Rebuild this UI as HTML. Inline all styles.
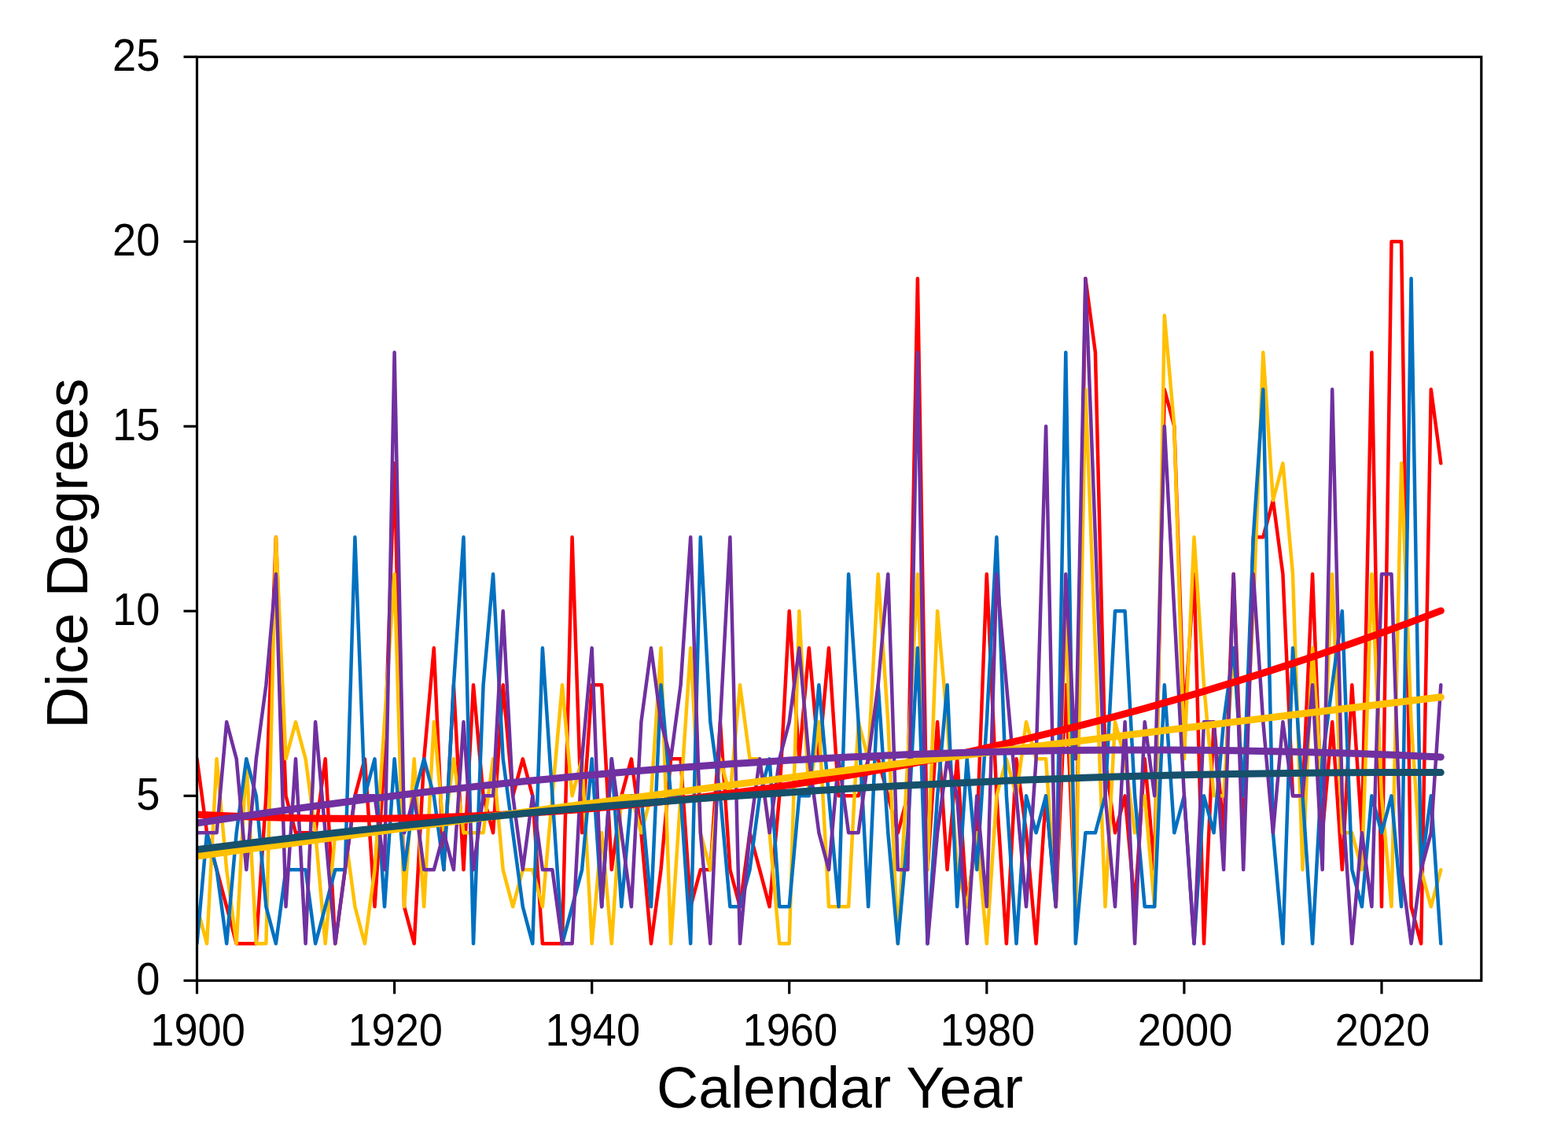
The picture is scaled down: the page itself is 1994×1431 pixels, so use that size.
<!DOCTYPE html>
<html lang="en">
<head>
<meta charset="utf-8">
<title>Dice Degrees by Calendar Year</title>
<style>
html,body{margin:0;padding:0;background:#fff;}
body{width:1994px;height:1431px;overflow:hidden;}
svg{display:block;}
text{font-family:"Liberation Sans",Arial,Helvetica,sans-serif;fill:#000;}
.tick{font-size:56.8px;}
.title{font-size:73.5px;}
.s{fill:none;stroke-width:4.5;stroke-linejoin:round;stroke-linecap:round;}
.t{fill:none;stroke-width:9;stroke-linejoin:round;stroke-linecap:round;}
.ax{stroke:#000;stroke-width:3.2;fill:none;stroke-linecap:butt;}
</style>
</head>
<body>
<svg xmlns="http://www.w3.org/2000/svg" width="1994" height="1431" viewBox="0 0 1994 1431">
<rect x="0" y="0" width="1994" height="1431" fill="#ffffff"/>
<defs><clipPath id="plotclip"><rect x="250.5" y="72.4" width="1633.3" height="1174.9"/></clipPath></defs>
<g class="s" clip-path="url(#plotclip)">
<polyline stroke="#FF0000" points="250.5,965.3 263.1,1059.3 275.6,1106.3 288.2,1153.3 300.7,1200.3 313.3,1200.3 325.8,1200.3 338.4,1012.3 350.9,683.3 363.5,1012.3 376,1059.3 388.6,1059.3 401.1,1059.3 413.7,965.3 426.3,1200.3 438.8,1106.3 451.4,1012.3 463.9,965.3 476.5,1153.3 489,965.3 501.6,589.3 514.1,1153.3 526.7,1200.3 539.2,965.3 551.8,824.3 564.4,1106.3 576.9,871.3 589.5,1106.3 602,871.3 614.6,1012.3 627.1,1059.3 639.7,871.3 652.2,1012.3 664.8,965.3 677.3,1012.3 689.9,1200.3 702.4,1200.3 715,1200.3 727.6,683.3 740.1,1059.3 752.7,871.3 765.2,871.3 777.8,1106.3 790.3,1012.3 802.9,965.3 815.4,1059.3 828,1200.3 840.5,1106.3 853.1,965.3 865.6,965.3 878.2,1153.3 890.8,1106.3 903.3,1106.3 915.9,918.3 928.4,1106.3 941,1153.3 953.5,1059.3 966.1,1106.3 978.6,1153.3 991.2,1012.3 1003.7,777.3 1016.3,965.3 1028.8,824.3 1041.4,965.3 1054,824.3 1066.5,1012.3 1079.1,1012.3 1091.6,1012.3 1104.2,965.3 1116.7,965.3 1129.3,1012.3 1141.8,1059.3 1154.4,1012.3 1166.9,354.3 1179.5,1106.3 1192.1,918.3 1204.6,1106.3 1217.2,965.3 1229.7,1153.3 1242.3,1059.3 1254.8,730.3 1267.4,1012.3 1279.9,1200.3 1292.5,965.3 1305,1059.3 1317.6,1200.3 1330.1,1012.3 1342.7,1153.3 1355.3,871.3 1367.8,1153.3 1380.4,354.3 1392.9,448.3 1405.5,965.3 1418,1059.3 1430.6,1012.3 1443.1,1153.3 1455.7,965.3 1468.2,1106.3 1480.8,495.3 1493.3,542.3 1505.9,918.3 1518.5,730.3 1531,1200.3 1543.6,918.3 1556.1,1059.3 1568.7,730.3 1581.2,1059.3 1593.8,683.3 1606.3,683.3 1618.9,636.3 1631.4,730.3 1644,1012.3 1656.5,1012.3 1669.1,730.3 1681.7,1059.3 1694.2,918.3 1706.8,1106.3 1719.3,871.3 1731.9,1059.3 1744.4,448.3 1757,1153.3 1769.5,307.3 1782.1,307.3 1794.6,1153.3 1807.2,1200.3 1819.8,495.3 1832.3,589.3"/>
<polyline stroke="#FFC000" points="250.5,1153.3 263.1,1200.3 275.6,965.3 288.2,1106.3 300.7,1200.3 313.3,965.3 325.8,1200.3 338.4,1200.3 350.9,683.3 363.5,965.3 376,918.3 388.6,965.3 401.1,1059.3 413.7,1200.3 426.3,1059.3 438.8,1059.3 451.4,1153.3 463.9,1200.3 476.5,1106.3 489,918.3 501.6,730.3 514.1,1153.3 526.7,965.3 539.2,1153.3 551.8,918.3 564.4,1059.3 576.9,965.3 589.5,1059.3 602,1059.3 614.6,1059.3 627.1,965.3 639.7,1106.3 652.2,1153.3 664.8,1106.3 677.3,1106.3 689.9,1153.3 702.4,1012.3 715,871.3 727.6,1012.3 740.1,965.3 752.7,1200.3 765.2,1059.3 777.8,1200.3 790.3,1012.3 802.9,1012.3 815.4,1059.3 828,1012.3 840.5,824.3 853.1,1200.3 865.6,1012.3 878.2,824.3 890.8,1059.3 903.3,1106.3 915.9,965.3 928.4,1012.3 941,871.3 953.5,965.3 966.1,965.3 978.6,1059.3 991.2,1200.3 1003.7,1200.3 1016.3,777.3 1028.8,1012.3 1041.4,918.3 1054,1153.3 1066.5,1153.3 1079.1,1153.3 1091.6,918.3 1104.2,965.3 1116.7,730.3 1129.3,918.3 1141.8,1200.3 1154.4,965.3 1166.9,730.3 1179.5,1106.3 1192.1,777.3 1204.6,918.3 1217.2,1106.3 1229.7,1153.3 1242.3,1059.3 1254.8,1200.3 1267.4,1012.3 1279.9,965.3 1292.5,1012.3 1305,918.3 1317.6,965.3 1330.1,965.3 1342.7,1153.3 1355.3,777.3 1367.8,1153.3 1380.4,495.3 1392.9,824.3 1405.5,1153.3 1418,918.3 1430.6,965.3 1443.1,1059.3 1455.7,1012.3 1468.2,1153.3 1480.8,401.3 1493.3,542.3 1505.9,965.3 1518.5,683.3 1531,871.3 1543.6,1012.3 1556.1,1012.3 1568.7,824.3 1581.2,1012.3 1593.8,777.3 1606.3,448.3 1618.9,636.3 1631.4,589.3 1644,730.3 1656.5,1106.3 1669.1,824.3 1681.7,1012.3 1694.2,730.3 1706.8,1059.3 1719.3,1059.3 1731.9,1106.3 1744.4,730.3 1757,1012.3 1769.5,1153.3 1782.1,589.3 1794.6,918.3 1807.2,1106.3 1819.8,1153.3 1832.3,1106.3"/>
<polyline stroke="#0070C0" points="250.5,1200.3 263.1,1059.3 275.6,1106.3 288.2,1200.3 300.7,1059.3 313.3,965.3 325.8,1012.3 338.4,1153.3 350.9,1200.3 363.5,1106.3 376,1106.3 388.6,1106.3 401.1,1200.3 413.7,1153.3 426.3,1106.3 438.8,1106.3 451.4,683.3 463.9,1012.3 476.5,965.3 489,1153.3 501.6,965.3 514.1,1106.3 526.7,1012.3 539.2,965.3 551.8,1012.3 564.4,1106.3 576.9,871.3 589.5,683.3 602,1200.3 614.6,871.3 627.1,730.3 639.7,965.3 652.2,1059.3 664.8,1153.3 677.3,1200.3 689.9,824.3 702.4,1012.3 715,1200.3 727.6,1153.3 740.1,1106.3 752.7,965.3 765.2,1153.3 777.8,965.3 790.3,1153.3 802.9,1012.3 815.4,1012.3 828,1153.3 840.5,871.3 853.1,1012.3 865.6,1012.3 878.2,1200.3 890.8,683.3 903.3,918.3 915.9,1012.3 928.4,1153.3 941,1153.3 953.5,1106.3 966.1,1012.3 978.6,965.3 991.2,1153.3 1003.7,1153.3 1016.3,1012.3 1028.8,1012.3 1041.4,871.3 1054,1012.3 1066.5,1153.3 1079.1,730.3 1091.6,918.3 1104.2,1153.3 1116.7,871.3 1129.3,1059.3 1141.8,1200.3 1154.4,1059.3 1166.9,824.3 1179.5,1200.3 1192.1,1012.3 1204.6,871.3 1217.2,1153.3 1229.7,965.3 1242.3,1106.3 1254.8,918.3 1267.4,683.3 1279.9,1012.3 1292.5,1200.3 1305,1012.3 1317.6,1059.3 1330.1,1012.3 1342.7,1153.3 1355.3,448.3 1367.8,1200.3 1380.4,1059.3 1392.9,1059.3 1405.5,1012.3 1418,777.3 1430.6,777.3 1443.1,1012.3 1455.7,1153.3 1468.2,1153.3 1480.8,871.3 1493.3,1059.3 1505.9,1012.3 1518.5,1200.3 1531,1012.3 1543.6,1059.3 1556.1,918.3 1568.7,824.3 1581.2,1012.3 1593.8,683.3 1606.3,495.3 1618.9,1059.3 1631.4,1200.3 1644,824.3 1656.5,1012.3 1669.1,1200.3 1681.7,965.3 1694.2,871.3 1706.8,777.3 1719.3,1106.3 1731.9,1153.3 1744.4,1012.3 1757,1059.3 1769.5,1012.3 1782.1,1153.3 1794.6,354.3 1807.2,1106.3 1819.8,1012.3 1832.3,1200.3"/>
<polyline stroke="#7030A0" points="250.5,1059.3 263.1,1059.3 275.6,1059.3 288.2,918.3 300.7,965.3 313.3,1106.3 325.8,965.3 338.4,871.3 350.9,730.3 363.5,1153.3 376,965.3 388.6,1200.3 401.1,918.3 413.7,1059.3 426.3,1200.3 438.8,1106.3 451.4,1012.3 463.9,1012.3 476.5,1012.3 489,1106.3 501.6,448.3 514.1,1059.3 526.7,1012.3 539.2,1106.3 551.8,1106.3 564.4,1059.3 576.9,1106.3 589.5,918.3 602,1106.3 614.6,1012.3 627.1,1012.3 639.7,777.3 652.2,1012.3 664.8,1106.3 677.3,1012.3 689.9,1106.3 702.4,1106.3 715,1200.3 727.6,1200.3 740.1,965.3 752.7,824.3 765.2,1153.3 777.8,965.3 790.3,1059.3 802.9,1153.3 815.4,918.3 828,824.3 840.5,918.3 853.1,965.3 865.6,871.3 878.2,683.3 890.8,1059.3 903.3,1200.3 915.9,918.3 928.4,683.3 941,1200.3 953.5,1059.3 966.1,965.3 978.6,1059.3 991.2,965.3 1003.7,918.3 1016.3,824.3 1028.8,965.3 1041.4,1059.3 1054,1106.3 1066.5,965.3 1079.1,1059.3 1091.6,1059.3 1104.2,965.3 1116.7,871.3 1129.3,730.3 1141.8,1106.3 1154.4,1106.3 1166.9,448.3 1179.5,1200.3 1192.1,1059.3 1204.6,965.3 1217.2,1012.3 1229.7,1200.3 1242.3,1012.3 1254.8,1153.3 1267.4,730.3 1279.9,871.3 1292.5,1012.3 1305,1153.3 1317.6,965.3 1330.1,542.3 1342.7,1153.3 1355.3,730.3 1367.8,965.3 1380.4,354.3 1392.9,683.3 1405.5,1012.3 1418,1153.3 1430.6,918.3 1443.1,1200.3 1455.7,918.3 1468.2,1012.3 1480.8,542.3 1493.3,777.3 1505.9,1012.3 1518.5,1200.3 1531,918.3 1543.6,918.3 1556.1,1106.3 1568.7,730.3 1581.2,1106.3 1593.8,730.3 1606.3,918.3 1618.9,1059.3 1631.4,918.3 1644,1012.3 1656.5,1012.3 1669.1,871.3 1681.7,1106.3 1694.2,495.3 1706.8,1012.3 1719.3,1200.3 1731.9,1059.3 1744.4,1153.3 1757,730.3 1769.5,730.3 1782.1,1106.3 1794.6,1200.3 1807.2,1106.3 1819.8,1059.3 1832.3,871.3"/>
</g>
<g class="t" clip-path="url(#plotclip)">
<polyline stroke="#FF0000" points="250.5,1036 288.2,1037.8 325.8,1039.3 363.5,1040.3 401.1,1041 438.8,1041.3 476.5,1041.2 514.1,1040.7 551.8,1039.8 589.5,1038.5 627.1,1036.8 664.8,1034.7 702.4,1032.3 740.1,1029.4 777.8,1026.2 815.4,1022.6 853.1,1018.5 890.8,1014.1 928.4,1009.3 966.1,1004.1 1003.7,998.6 1041.4,992.6 1079.1,986.2 1116.7,979.5 1154.4,972.3 1192.1,964.8 1229.7,956.9 1267.4,948.5 1305,939.8 1342.7,930.7 1380.4,921.2 1418,911.4 1455.7,901.1 1493.3,890.4 1531,879.4 1568.7,867.9 1606.3,856.1 1644,843.9 1681.7,831.3 1719.3,818.3 1757,804.9 1794.6,791.1 1832.3,776.9"/>
<polyline stroke="#FFC000" points="250.5,1089.1 288.2,1083.9 325.8,1078.8 363.5,1073.7 401.1,1068.6 438.8,1063.5 476.5,1058.4 514.1,1053.3 551.8,1048.3 589.5,1043.3 627.1,1038.3 664.8,1033.3 702.4,1028.3 740.1,1023.3 777.8,1018.4 815.4,1013.5 853.1,1008.6 890.8,1003.7 928.4,998.8 966.1,993.9 1003.7,989.1 1041.4,984.3 1079.1,979.5 1116.7,974.7 1154.4,969.9 1192.1,965.1 1229.7,960.4 1267.4,955.7 1305,950.9 1342.7,946.3 1380.4,941.6 1418,936.9 1455.7,932.3 1493.3,927.6 1531,923 1568.7,918.4 1606.3,913.9 1644,909.3 1681.7,904.8 1719.3,900.2 1757,895.7 1794.6,891.2 1832.3,886.8"/>
<polyline stroke="#17506A" points="250.5,1080.6 288.2,1075.9 325.8,1071.2 363.5,1066.7 401.1,1062.3 438.8,1058 476.5,1053.9 514.1,1049.8 551.8,1045.9 589.5,1042.1 627.1,1038.4 664.8,1034.8 702.4,1031.3 740.1,1028 777.8,1024.8 815.4,1021.7 853.1,1018.7 890.8,1015.8 928.4,1013.1 966.1,1010.4 1003.7,1007.9 1041.4,1005.5 1079.1,1003.3 1116.7,1001.1 1154.4,999.1 1192.1,997.2 1229.7,995.4 1267.4,993.7 1305,992.1 1342.7,990.7 1380.4,989.3 1418,988.1 1455.7,987 1493.3,986.1 1531,985.2 1568.7,984.5 1606.3,983.9 1644,983.4 1681.7,983 1719.3,982.7 1757,982.6 1794.6,982.5 1832.3,982.6"/>
<polyline stroke="#7030A0" points="250.5,1047 288.2,1041.3 325.8,1035.8 363.5,1030.4 401.1,1025.2 438.8,1020.2 476.5,1015.4 514.1,1010.8 551.8,1006.3 589.5,1002.1 627.1,998 664.8,994.1 702.4,990.4 740.1,986.8 777.8,983.5 815.4,980.3 853.1,977.3 890.8,974.5 928.4,971.8 966.1,969.4 1003.7,967.1 1041.4,965 1079.1,963.1 1116.7,961.4 1154.4,959.8 1192.1,958.4 1229.7,957.3 1267.4,956.3 1305,955.4 1342.7,954.8 1380.4,954.3 1418,954 1455.7,954 1493.3,954 1531,954.3 1568.7,954.7 1606.3,955.4 1644,956.2 1681.7,957.2 1719.3,958.3 1757,959.7 1794.6,961.2 1832.3,962.9"/>
</g>
<g class="ax">
<rect x="250.5" y="72.4" width="1633.3" height="1174.9"/>
<line x1="233.5" y1="1247.3" x2="250.5" y2="1247.3"/>
<line x1="233.5" y1="1012.3" x2="250.5" y2="1012.3"/>
<line x1="233.5" y1="777.3" x2="250.5" y2="777.3"/>
<line x1="233.5" y1="542.3" x2="250.5" y2="542.3"/>
<line x1="233.5" y1="307.3" x2="250.5" y2="307.3"/>
<line x1="233.5" y1="72.3" x2="250.5" y2="72.3"/>
<line x1="250.5" y1="1247.3" x2="250.5" y2="1264.3"/>
<line x1="501.6" y1="1247.3" x2="501.6" y2="1264.3"/>
<line x1="752.7" y1="1247.3" x2="752.7" y2="1264.3"/>
<line x1="1003.7" y1="1247.3" x2="1003.7" y2="1264.3"/>
<line x1="1254.8" y1="1247.3" x2="1254.8" y2="1264.3"/>
<line x1="1505.9" y1="1247.3" x2="1505.9" y2="1264.3"/>
<line x1="1757" y1="1247.3" x2="1757" y2="1264.3"/>
</g>
<g class="tick" text-anchor="end">
<text transform="translate(203.3,1265.2) scale(0.955,1)">0</text>
<text transform="translate(203.3,1030.2) scale(0.955,1)">5</text>
<text transform="translate(203.3,795.2) scale(0.955,1)">10</text>
<text transform="translate(203.3,560.2) scale(0.955,1)">15</text>
<text transform="translate(203.3,325.2) scale(0.955,1)">20</text>
<text transform="translate(203.3,90.2) scale(0.955,1)">25</text>
</g>
<g class="tick" text-anchor="middle">
<text transform="translate(251.6,1330.2) scale(0.955,1)">1900</text>
<text transform="translate(502.7,1330.2) scale(0.955,1)">1920</text>
<text transform="translate(753.8,1330.2) scale(0.955,1)">1940</text>
<text transform="translate(1004.8,1330.2) scale(0.955,1)">1960</text>
<text transform="translate(1255.9,1330.2) scale(0.955,1)">1980</text>
<text transform="translate(1507,1330.2) scale(0.955,1)">2000</text>
<text transform="translate(1758.1,1330.2) scale(0.955,1)">2020</text>
</g>
<text class="title" text-anchor="middle" x="1068" y="1409.4">Calendar Year</text>
<text class="title" text-anchor="middle" transform="translate(110.6,704) rotate(-90)">Dice Degrees</text>
</svg>
</body>
</html>
